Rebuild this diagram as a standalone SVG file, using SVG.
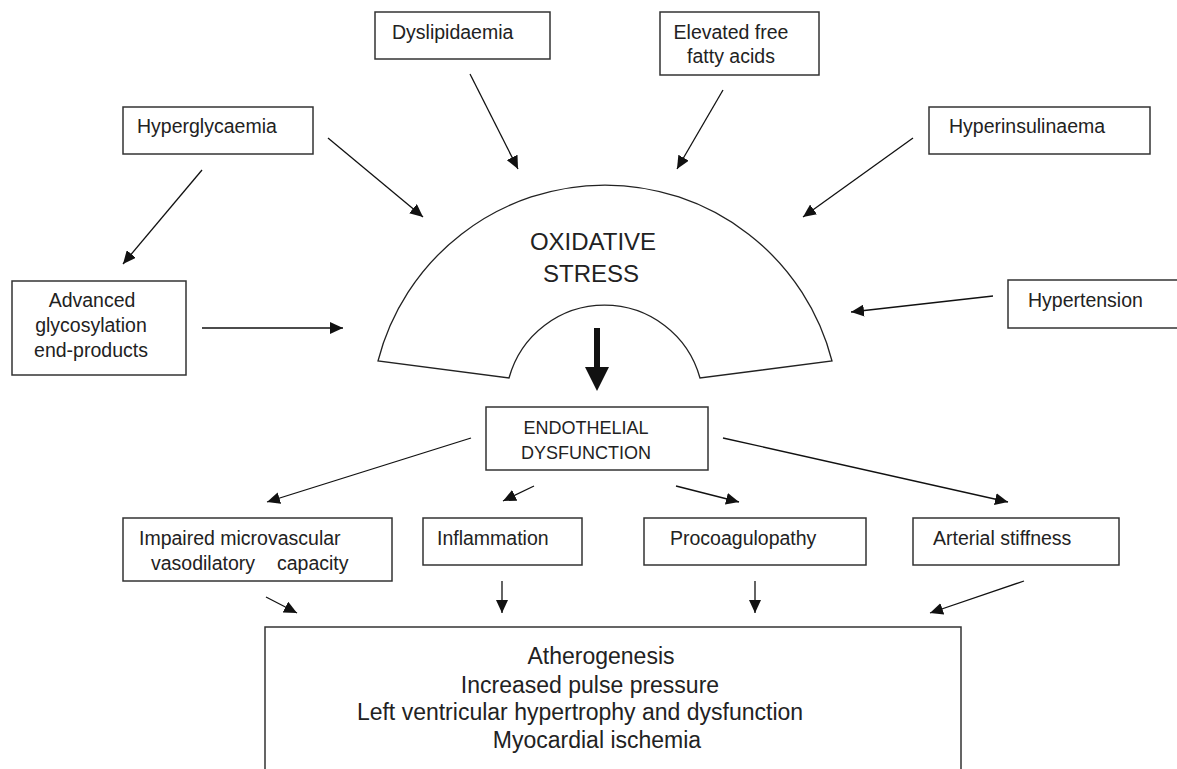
<svg xmlns="http://www.w3.org/2000/svg" width="1177" height="769" viewBox="0 0 1177 769">
<defs>
<marker id="ah" markerUnits="userSpaceOnUse" markerWidth="13" markerHeight="12" refX="13" refY="6" orient="auto">
<path d="M0,0 L13,6 L0,12 z" fill="#111"/>
</marker>
<style>
.box{fill:#fff;stroke:#333;stroke-width:1.5}
.arc{fill:#fff;stroke:#222;stroke-width:1.3}
.t{font-family:"Liberation Sans",Arial,sans-serif;font-size:19.5px;fill:#222}
.c{text-anchor:middle}
.cap{font-size:18px}
.big{font-size:23px}
.conn line{stroke:#111;stroke-width:1.3;marker-end:url(#ah)}
</style>
</defs>
<rect width="1177" height="769" fill="#fff"/>

<g id="oxidative-stress">
<path class="arc" d="M378,361 A234.4,234.4 0 0 1 832,361 L700,378 A99,99 0 0 0 509,378 Z"/>
<text class="t c" x="593" y="250" style="font-size:24px">OXIDATIVE</text>
<text class="t c" x="591" y="282" style="font-size:24px">STRESS</text>
</g>

<g id="dyslipidaemia">
<rect class="box" x="375" y="12" width="175" height="47"/>
<text class="t" x="392" y="39">Dyslipidaemia</text>
</g>
<g id="ffa">
<rect class="box" x="660" y="12" width="159" height="63"/>
<text class="t c" x="731" y="39">Elevated free</text>
<text class="t c" x="731" y="63">fatty acids</text>
</g>
<g id="hyperglycaemia">
<rect class="box" x="123" y="107" width="190" height="47"/>
<text class="t" x="137" y="133">Hyperglycaemia</text>
</g>
<g id="hyperinsulinaema">
<rect class="box" x="929" y="107" width="221" height="47"/>
<text class="t" x="949" y="133">Hyperinsulinaema</text>
</g>
<g id="age">
<rect class="box" x="12" y="281" width="174" height="94"/>
<text class="t c" x="92" y="307">Advanced</text>
<text class="t c" x="91" y="332">glycosylation</text>
<text class="t c" x="91" y="357">end-products</text>
</g>
<g id="hypertension">
<rect class="box" x="1008" y="280" width="220" height="48"/>
<text class="t" x="1028" y="307">Hypertension</text>
</g>
<g id="endothelial-dysfunction">
<rect class="box" x="486" y="407" width="222" height="63"/>
<text class="t c cap" x="586" y="434">ENDOTHELIAL</text>
<text class="t c cap" x="586" y="459">DYSFUNCTION</text>
</g>
<g id="impaired">
<rect class="box" x="123" y="518" width="269" height="63"/>
<text class="t" x="139" y="545">Impaired microvascular</text>
<text class="t" x="151" y="570">vasodilatory <tspan x="277">capacity</tspan></text>
</g>
<g id="inflammation">
<rect class="box" x="423" y="518" width="159" height="47"/>
<text class="t" x="437" y="545">Inflammation</text>
</g>
<g id="procoagulopathy">
<rect class="box" x="644" y="518" width="222" height="47"/>
<text class="t" x="670" y="545">Procoagulopathy</text>
</g>
<g id="arterial-stiffness">
<rect class="box" x="913" y="518" width="206" height="47"/>
<text class="t" x="933" y="545">Arterial stiffness</text>
</g>
<g id="outcomes">
<path class="box" d="M265,775 V627 H961 V775"/>
<text class="t c big" x="601" y="664">Atherogenesis</text>
<text class="t c big" x="590" y="693">Increased pulse pressure</text>
<text class="t c big" x="580" y="720">Left ventricular hypertrophy and dysfunction</text>
<text class="t c big" x="597" y="748">Myocardial ischemia</text>
</g>

<g id="connectors" class="conn">
<line x1="202" y1="170" x2="123" y2="264"/>
<line x1="328" y1="138" x2="423" y2="217"/>
<line x1="470" y1="74" x2="518" y2="169"/>
<line x1="723" y1="90" x2="677" y2="169"/>
<line x1="913" y1="138" x2="803" y2="217"/>
<line x1="202" y1="328" x2="343" y2="328"/>
<line x1="993" y1="296" x2="851" y2="312"/>
<line x1="471" y1="438" x2="267" y2="502"/>
<line x1="534" y1="486" x2="503" y2="501"/>
<line x1="676" y1="486" x2="739" y2="502"/>
<line x1="723" y1="438" x2="1008" y2="502"/>
<line x1="266" y1="597" x2="297" y2="613"/>
<line x1="502" y1="581" x2="502" y2="613"/>
<line x1="755" y1="581" x2="755" y2="613"/>
<line x1="1024" y1="581" x2="930" y2="613"/>
<path d="M594,328 H600 V367 H609 L597,391 L585,367 H594 Z" fill="#111"/>
</g>
</svg>
